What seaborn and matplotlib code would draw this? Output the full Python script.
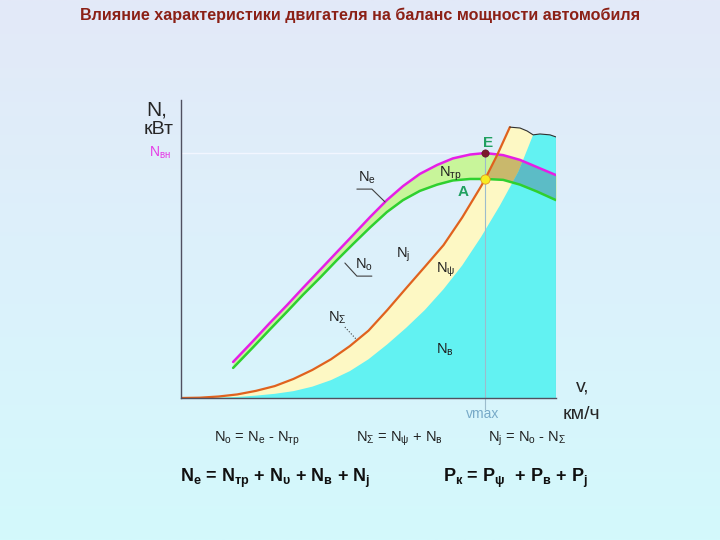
import numpy as np
import matplotlib.pyplot as plt
from matplotlib.colors import LinearSegmentedColormap
import seaborn as sns

# DATA (relative units: speed 0..100, power 0..100)
v_eng = [13.9, 19.2, 23.7, 28.3, 32.5, 37.1, 41.6, 45.9, 50.4, 54.9,
         59.2, 63.7, 68.3, 72.5, 77.1, 81.1, 85.9, 90.4, 94.9, 100.0]
n_e = [12.1, 19.1, 25.2, 31.2, 36.9, 43.0, 49.0, 54.7, 60.7, 66.4,
       71.1, 75.2, 78.2, 80.4, 81.7, 82.2, 81.5, 79.9, 77.5, 74.8]
n_o = [10.1, 17.0, 23.0, 29.0, 34.6, 40.4, 46.3, 51.7, 57.2, 62.4,
       66.4, 69.5, 71.6, 73.0, 73.5, 73.5, 73.2, 71.6, 69.3, 66.4]

v_sum = [0, 5, 10, 15, 20, 25, 30, 35, 40, 45, 50, 55, 60, 65, 70, 75, 80, 81.1, 84.3, 87.7]
n_sum = [0, 0.1, 0.5, 1.2, 2.4, 4.0, 6.4, 9.4, 13.0, 17.4, 22.6, 29.5, 36.8, 44.0,
         51.3, 60.6, 71.0, 73.5, 81.5, 90.9]

v_air = [0, 5, 10, 15, 20, 25, 30, 35, 40, 45, 50, 55, 60, 65, 70, 75, 80, 85, 90, 93.9]
n_air = [0, 0.05, 0.15, 0.35, 0.8, 1.4, 2.3, 3.8, 6.0, 9.0, 13.0, 18.0, 23.5, 29.5,
         36.5, 44.5, 54.0, 64.5, 76.0, 88.3]

v_top = [87.7, 90.4, 92.3, 93.9, 95.7, 98.4, 100.0]
n_top = [90.9, 90.6, 89.6, 88.3, 88.6, 88.3, 87.6]

v_max = 81.1

# leader lines for labels
lead_e_v = [46.9, 50.9, 54.4]
lead_e_n = [70.1, 70.1, 65.8]
lead_o_v = [43.7, 46.9, 50.9]
lead_o_n = [45.3, 40.9, 40.9]
lead_s_v = [43.7, 46.9]
lead_s_n = [23.8, 19.5]

title = "Влияние характеристики двигателя на баланс мощности автомобиля"

sns.set_theme(style="white")
plt.rcParams["font.family"] = ["Liberation Sans", "DejaVu Sans"]
plt.rcParams["mathtext.fontset"] = "custom"
plt.rcParams["mathtext.rm"] = "Liberation Sans"
plt.rcParams["mathtext.it"] = "Liberation Sans:italic"
plt.rcParams["mathtext.bf"] = "Liberation Sans:bold"

fig = plt.figure(figsize=(7.2, 5.4), dpi=100)

# background gradient
bg = fig.add_axes([0, 0, 1, 1], zorder=-10)
cmap = LinearSegmentedColormap.from_list("bg", ["#e3e9f8", "#dcf1fb", "#d3f9fc"])
bg.imshow(np.linspace(0, 1, 256).reshape(-1, 1), aspect="auto", cmap=cmap,
          extent=[0, 1, 0, 1])
bg.axis("off")

ax = fig.add_axes([181 / 720, 1 - 398 / 540, 375 / 720, 298 / 540])
ax.set_facecolor("none")
ax.set_xlim(0, 100)
ax.set_ylim(0, 100)

# green band Ntr
ax.fill_between(v_eng, n_o, n_e, color="#c8f59a", lw=0, zorder=1)

# yellow region (N_psi) + cyan region (N_v)
yellow = ax.fill(v_sum + v_top[1:] + [100, 0], n_sum + n_top[1:] + [0, 0],
                 color="#fdf8c4", lw=0, zorder=2)[0]
olive = ax.fill_between(v_eng, n_o, n_e, color="#c9b86c", lw=0, zorder=3)
olive.set_clip_path(yellow)
cyan = ax.fill(v_air + v_top[4:] + [100], n_air + n_top[4:] + [0],
               color="#62f2f2", lw=0, zorder=4)[0]
teal = ax.fill_between(v_eng, n_o, n_e, color="#5cbcc6", lw=0, zorder=5)
teal.set_clip_path(cyan)

# curves
sns.lineplot(x=v_eng, y=n_e, ax=ax, color="#e61ee6", lw=1.8, zorder=6)
sns.lineplot(x=v_eng, y=n_o, ax=ax, color="#2fd02f", lw=1.8, zorder=6)
sns.lineplot(x=v_sum, y=n_sum, ax=ax, color="#e0621e", lw=1.6, zorder=6)
sns.lineplot(x=v_top, y=n_top, ax=ax, color="#303030", lw=0.8, zorder=6)
ax.vlines(v_top[-1], 0, n_top[-1], color="#8aa0b0", lw=0.8, zorder=6)

ne_max = max(n_e)
no_at_vmax = n_o[v_eng.index(v_max)]
ax.vlines(v_max, -4, ne_max, color="#9cbccc", lw=0.8, zorder=6, clip_on=False)
ax.hlines(ne_max, 0, v_max, color="#f2f6ff", lw=1, zorder=0.5)

sns.scatterplot(x=[v_max], y=[ne_max], ax=ax, color="#7a1a2a", s=28,
                edgecolor="#5a1020", zorder=7)
sns.scatterplot(x=[v_max], y=[no_at_vmax], ax=ax, color="#f8ec20", s=45,
                edgecolor="#e09020", zorder=7)

# leaders
ax.plot(lead_e_v, lead_e_n, color="#404040", lw=0.8, zorder=7)
ax.plot(lead_o_v, lead_o_n, color="#404040", lw=0.8, zorder=7)
ax.plot(lead_s_v, lead_s_n, color="#404040", lw=0.8, ls=":", zorder=7)

for side in ["top", "right"]:
    ax.spines[side].set_visible(False)
for side in ["left", "bottom"]:
    ax.spines[side].set_color("#505060")
    ax.spines[side].set_linewidth(1)
    ax.spines[side].set_zorder(10)
ax.set_xticks([])
ax.set_yticks([])

# axis labels
ax.text(-6.4, 96.6, "N,", fontsize=15, ha="center", va="center", clip_on=False)
ax.text(-5.9, 90.0, "кВт", fontsize=14, ha="center", va="center", clip_on=False)
ax.text(-5.6, 82.2, "N$_{\\mathrm{вн}}$", fontsize=10, color="#e63ce6",
        ha="center", va="center", clip_on=False)
ax.text(107, 3.6, "v,", fontsize=14, ha="center", va="center", clip_on=False)
ax.text(106.7, -5.4, "км/ч", fontsize=14, ha="center", va="center", clip_on=False)
ax.text(80.5, -5.4, "vmax", fontsize=10, color="#78aac8", ha="center",
        va="center", clip_on=False)

# point and curve labels
ax.text(81.8, 85.6, "E", fontsize=11, fontweight="bold", color="#20a060",
        ha="center", va="center", zorder=8)
ax.text(75.2, 69.1, "A", fontsize=11, fontweight="bold", color="#20a060",
        ha="center", va="center", zorder=8)
lbl = dict(fontsize=10.5, ha="center", va="center", color="#202020", zorder=8)
ax.text(49.6, 73.8, "N$_{\\mathrm{е}}$", **lbl)
ax.text(71.7, 75.2, "N$_{\\mathrm{тр}}$", **lbl)
ax.text(59.2, 48.0, "N$_{\\mathrm{j}}$", **lbl)
ax.text(48.8, 44.6, "N$_{\\mathrm{о}}$", **lbl)
ax.text(70.7, 43.0, "N$_{\\mathrm{ψ}}$", **lbl)
ax.text(41.6, 26.8, "N$_{\\mathrm{Σ}}$", **lbl)
ax.text(70.4, 16.1, "N$_{\\mathrm{в}}$", **lbl)

# title and formulas
fig.text(0.5, 1 - 15 / 540, title, ha="center", va="center", fontsize=11.6,
         fontweight="bold", color="#8b2016")

f_small = dict(fontsize=10.5, ha="center", va="center", color="#202020")
fig.text(257 / 720, 1 - 439 / 540,
         "N$_{\\mathrm{о}}$ = N$_{\\mathrm{е}}$ - N$_{\\mathrm{тр}}$", **f_small)
fig.text(399 / 720, 1 - 439 / 540,
         "N$_{\\mathrm{Σ}}$ = N$_{\\mathrm{ψ}}$ + N$_{\\mathrm{в}}$", **f_small)
fig.text(527 / 720, 1 - 439 / 540,
         "N$_{\\mathrm{j}}$ = N$_{\\mathrm{о}}$ - N$_{\\mathrm{Σ}}$", **f_small)

f_big = dict(fontsize=13, fontweight="bold", ha="left", va="center", color="#101010")
fig.text(180 / 720, 1 - 478 / 540,
         "N$_{\\mathbf{е}}$ = N$_{\\mathbf{тр}}$ + N$_{\\mathbf{υ}}$ + "
         "N$_{\\mathbf{в}}$ + N$_{\\mathbf{j}}$", **f_big)
fig.text(443 / 720, 1 - 478 / 540,
         "P$_{\\mathbf{к}}$ = P$_{\\mathbf{ψ}}$  + P$_{\\mathbf{в}}$ + P$_{\\mathbf{j}}$",
         **f_big)

fig.savefig("out.png", dpi=100)
